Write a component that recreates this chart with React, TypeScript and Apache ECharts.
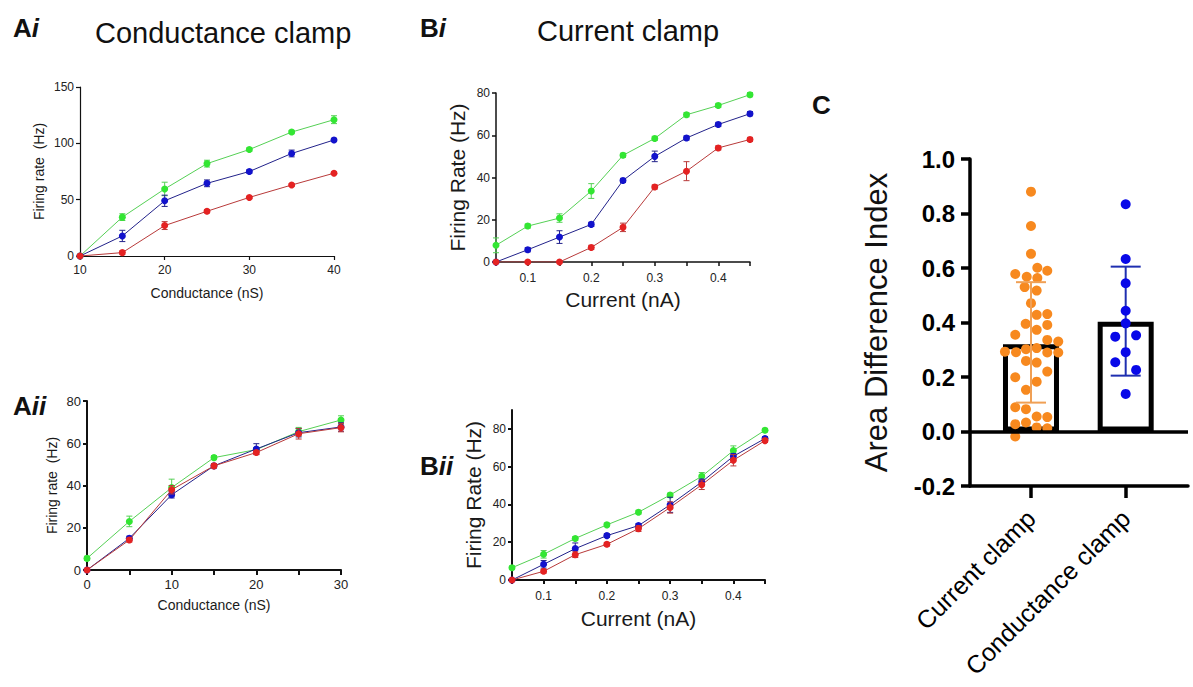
import React, { useEffect, useRef } from 'react';
import * as echarts from 'echarts';

const FONT = "'Liberation Sans', Arial, Helvetica, sans-serif";

// ---------- Panel Ai (conductance clamp) ----------
const aiX = [10, 15, 20, 25, 30, 35, 40];
const aiGreen = [0, 34.5, 59.5, 82, 94.5, 110, 121];
const aiGreenErr = [0, 3, 6, 3, 1.5, 1.5, 3.5];
const aiBlue = [0, 17.8, 49, 64.5, 75, 91, 103];
const aiBlueErr = [0, 5, 5, 3, 1.5, 3, 1.5];
const aiRed = [0, 3, 27, 39.7, 52, 63, 73.5];
const aiRedErr = [0, 1.5, 3.5, 1.5, 1, 1, 1];

// ---------- Panel Aii ----------
const aiiX = [0, 5, 10, 15, 20, 25, 30];
const aiiGreen = [5.5, 23, 39, 53.2, 57, 65.5, 71];
const aiiGreenErr = [1, 2.5, 4, 1, 1, 2, 2];
const aiiBlue = [0, 15, 35.6, 49.3, 57.3, 65, 67.7];
const aiiBlueErr = [0, 1, 1.5, 1, 2.5, 2, 2];
const aiiRed = [0, 14.2, 38, 49.3, 55.6, 64.5, 67.4];
const aiiRedErr = [0, 1, 2, 1, 1, 2.5, 2];

// ---------- Panel Bi (current clamp) ----------
const bX = [0.05, 0.1, 0.15, 0.2, 0.25, 0.3, 0.35, 0.4, 0.45];
const biGreen = [7.9, 17, 20.8, 33.6, 50.5, 58.5, 69.7, 74.1, 79.2];
const biGreenErr = [3.5, 1, 2, 3.5, 1, 1, 1, 1, 1];
const biBlue = [0, 5.8, 11.8, 17.8, 38.6, 50, 58.7, 65.1, 70.2];
const biBlueErr = [0, 1, 3, 1, 1, 2.5, 1, 1, 1];
const biRed = [0, 0, 0, 6.9, 16.4, 35.5, 43, 54, 58];
const biRedErr = [0, 0, 0, 1, 2, 1, 4.5, 1, 1];

// ---------- Panel Bii ----------
const biiGreen = [6.5, 13.6, 22, 29.2, 35.9, 45, 54.9, 68.5, 79.3];
const biiGreenErr = [1, 2, 1, 1, 1, 1, 2, 2.5, 1];
const biiBlue = [0, 8.3, 16.6, 23.5, 28.8, 39.8, 51.9, 65.5, 74.9];
const biiBlueErr = [0, 2, 3, 1, 1, 4, 1.5, 1.5, 1];
const biiRed = [0, 4.6, 13.4, 18.9, 27.2, 38.4, 50.4, 63.4, 73.8];
const biiRedErr = [0, 1, 1.5, 1, 1.5, 3, 2.5, 3, 1];

// ---------- Panel C ----------
const cCategories = ['Current clamp', 'Conductance clamp'];
const cMeans = [0.32, 0.403];
const cSdLow = [0.106, 0.205];
const cSdHigh = [0.548, 0.605];
const currentVals = [0.880, 0.754, 0.652, 0.601, 0.590, 0.578, 0.568, 0.563, 0.530, 0.517, 0.471, 0.428, 0.431, 0.395, 0.391, 0.373, 0.355, 0.336, 0.330, 0.293, 0.291, 0.302, 0.306, 0.290, 0.290, 0.259, 0.253, 0.220, 0.199, 0.183, 0.153, 0.089, 0.082, 0.055, 0.053, 0.027, 0.033, 0.015, 0.012, -0.018];
const currentJitter = [0, 0, 0, 0.067, 0.172, -0.166, -0.045, 0.067, -0.067, 0.06, 0, 0.06, 0.172, -0.056, 0.172, 0.06, -0.166, 0.172, 0.288, -0.275, -0.158, -0.053, 0.06, 0.172, 0.288, -0.053, 0.06, 0.172, -0.166, 0.06, -0.053, -0.166, -0.053, 0.06, 0.172, -0.166, -0.053, 0.06, 0.172, -0.166];
const conductanceVals = [0.834, 0.633, 0.544, 0.443, 0.397, 0.348, 0.353, 0.291, 0.254, 0.226, 0.138];
const conductanceJitter = [0, 0, 0, 0, 0, -0.11, 0.11, 0, -0.11, 0.11, 0];

const GREEN = '#33e633';
const GREEN_LINE = '#55d055';
const BLUE = '#1212cc';
const BLUE_LINE = '#22228a';
const RED = '#e42222';
const RED_LINE = '#b83a3a';
const ORANGE = '#f7891f';
const DOT_BLUE = '#0808e8';

function errRender(color: string, capW: number, lw: number) {
  return (params: any, api: any) => {
    const x = api.value(0);
    const lo = api.value(1);
    const hi = api.value(2);
    if (hi - lo <= 0) return null;
    const p1 = api.coord([x, hi]);
    const p2 = api.coord([x, lo]);
    const style = { stroke: color, lineWidth: lw, fill: 'none' };
    return {
      type: 'group',
      children: [
        { type: 'line', shape: { x1: p1[0], y1: p1[1], x2: p2[0], y2: p2[1] }, style },
        { type: 'line', shape: { x1: p1[0] - capW / 2, y1: p1[1], x2: p1[0] + capW / 2, y2: p1[1] }, style },
        { type: 'line', shape: { x1: p2[0] - capW / 2, y1: p2[1], x2: p2[0] + capW / 2, y2: p2[1] }, style },
      ],
    };
  };
}

function panelSeries(idx: number, xs: number[], sets: [number[], number[], string, string][]) {
  const out: any[] = [];
  sets.forEach(([vals, errs, mc, lc], k) => {
    out.push({
      type: 'custom',
      xAxisIndex: idx,
      yAxisIndex: idx,
      data: xs.map((x, i) => [x, vals[i] - errs[i], vals[i] + errs[i]]),
      renderItem: errRender(lc, 6, 1),
      z: 3 + k * 2,
      silent: true,
    });
    out.push({
      type: 'line',
      xAxisIndex: idx,
      yAxisIndex: idx,
      data: xs.map((x, i) => [x, vals[i]]),
      symbol: 'circle',
      symbolSize: 7,
      itemStyle: { color: mc, opacity: 1 },
      lineStyle: { color: lc, width: 1 },
      z: 4 + k * 2,
      silent: true,
    });
  });
  return out;
}

function valAxis(o: any) {
  const { idx, min, max, interval, name, nameGap, nameSize, labelSize, lineW, labelVals, tickVals, rotateName, tickLen, margin, fmt } = o;
  const ax: any = {
    type: 'value',
    gridIndex: idx,
    min,
    max,
    interval,
    name,
    nameLocation: 'middle',
    nameGap,
    nameTextStyle: { fontSize: nameSize, color: '#1a1a1a', fontFamily: FONT },
    axisLine: { show: true, onZero: false, lineStyle: { color: '#111', width: lineW } },
    axisTick: { show: true, length: tickLen ?? 4, lineStyle: { color: '#111', width: lineW } },
    axisLabel: { fontSize: labelSize, color: '#222', fontFamily: FONT, margin: margin ?? 6 },
    splitLine: { show: false },
  };
  if (rotateName) ax.nameRotate = 90;
  if (labelVals) ax.axisLabel.customValues = labelVals;
  if (tickVals) ax.axisTick.customValues = tickVals;
  if (fmt) ax.axisLabel.formatter = fmt;
  return ax;
}

export default function App() {
  const ref = useRef<HTMLDivElement>(null);
  useEffect(() => {
    if (!ref.current) return;
    const chart = echarts.init(ref.current, undefined, { renderer: 'svg' });

    const grids = [
      { left: 80, top: 87, width: 254, height: 169 },
      { left: 87, top: 401, width: 254, height: 169 },
      { left: 496, top: 93, width: 254, height: 169 },
      { left: 512, top: 410, width: 253, height: 170 },
      { left: 970, top: 159, width: 218, height: 327 },
    ];

    const xAxes = [
      valAxis({ idx: 0, min: 10, max: 40, interval: 10, name: 'Conductance (nS)', nameGap: 30, nameSize: 14, labelSize: 12, lineW: 1.2, margin: 8 }),
      valAxis({ idx: 1, min: 0, max: 30, interval: 5, name: 'Conductance (nS)', nameGap: 28, nameSize: 14, labelSize: 13, lineW: 2, labelVals: [0, 10, 20, 30], tickVals: [0, 5, 10, 15, 20, 25, 30], margin: 8, tickLen: 5 }),
      valAxis({ idx: 2, min: 0.05, max: 0.45, interval: 0.05, name: 'Current (nA)', nameGap: 27, nameSize: 21, labelSize: 12, lineW: 1.5, labelVals: [0.1, 0.2, 0.3, 0.4], tickVals: bX, margin: 10, fmt: (v: number) => v.toFixed(1) }),
      valAxis({ idx: 3, min: 0.05, max: 0.45, interval: 0.05, name: 'Current (nA)', nameGap: 28, nameSize: 21, labelSize: 12, lineW: 2, labelVals: [0.1, 0.2, 0.3, 0.4], tickVals: bX, margin: 10, fmt: (v: number) => v.toFixed(1) }),
      {
        type: 'value',
        gridIndex: 4,
        min: 0.356,
        max: 2.658,
        axisLine: { show: true, onZero: false, lineStyle: { color: '#000', width: 3.5 } },
        axisTick: { show: true, length: 12, customValues: [1, 2], lineStyle: { color: '#000', width: 3.5 } },
        axisLabel: {
          customValues: [1, 2],
          rotate: 45,
          fontSize: 25,
          color: '#000',
          fontFamily: FONT,
          margin: 28,
          formatter: (v: number) => cCategories[Math.round(v) - 1] ?? '',
        },
        splitLine: { show: false },
      },
    ];

    const yAxes = [
      valAxis({ idx: 0, min: 0, max: 150, interval: 50, name: 'Firing rate  (Hz)', nameGap: 34, nameSize: 14, labelSize: 12, lineW: 1.2, rotateName: true }),
      valAxis({ idx: 1, min: 0, max: 80, interval: 20, name: 'Firing rate  (Hz)', nameGap: 28, nameSize: 14, labelSize: 13, lineW: 2, rotateName: true }),
      valAxis({ idx: 2, min: 0, max: 80, interval: 20, name: 'Firing Rate (Hz)', nameGap: 28, nameSize: 21, labelSize: 12, lineW: 1.5, rotateName: true }),
      valAxis({ idx: 3, min: 0, max: 90, interval: 10, name: 'Firing Rate (Hz)', nameGap: 28, nameSize: 21, labelSize: 12, lineW: 2, rotateName: true, labelVals: [0, 20, 40, 60, 80], tickVals: [0, 20, 40, 60, 80] }),
      {
        type: 'value',
        gridIndex: 4,
        min: -0.2,
        max: 1.0,
        interval: 0.2,
        name: 'Area Difference Index',
        nameLocation: 'middle',
        nameGap: 78,
        nameRotate: 90,
        nameTextStyle: { fontSize: 31, color: '#111', fontFamily: FONT },
        axisLine: { show: true, onZero: false, lineStyle: { color: '#000', width: 3.5 } },
        axisTick: { show: true, length: 9, lineStyle: { color: '#000', width: 3.5 } },
        axisLabel: { fontSize: 24, fontWeight: 'bold', color: '#000', fontFamily: FONT, margin: 15, formatter: (v: number) => v.toFixed(1) },
        splitLine: { show: false },
      },
    ];

    const series: any[] = [
      ...panelSeries(0, aiX, [[aiGreen, aiGreenErr, GREEN, GREEN_LINE], [aiBlue, aiBlueErr, BLUE, BLUE_LINE], [aiRed, aiRedErr, RED, RED_LINE]]),
      ...panelSeries(1, aiiX, [[aiiGreen, aiiGreenErr, GREEN, GREEN_LINE], [aiiBlue, aiiBlueErr, BLUE, BLUE_LINE], [aiiRed, aiiRedErr, RED, RED_LINE]]),
      ...panelSeries(2, bX, [[biGreen, biGreenErr, GREEN, GREEN_LINE], [biBlue, biBlueErr, BLUE, BLUE_LINE], [biRed, biRedErr, RED, RED_LINE]]),
      ...panelSeries(3, bX, [[biiGreen, biiGreenErr, GREEN, GREEN_LINE], [biiBlue, biiBlueErr, BLUE, BLUE_LINE], [biiRed, biiRedErr, RED, RED_LINE]]),
      {
        type: 'bar',
        xAxisIndex: 4,
        yAxisIndex: 4,
        barWidth: 56,
        data: cMeans.map((m, i) => [i + 1, m]),
        itemStyle: { color: '#fff', borderColor: '#000', borderWidth: 5 },
        markLine: {
          silent: true,
          symbol: 'none',
          label: { show: false },
          lineStyle: { color: '#000', width: 3.5, type: 'solid' },
          data: [{ yAxis: 0 }],
        },
        z: 2,
        silent: true,
      },
      {
        type: 'scatter',
        xAxisIndex: 4,
        yAxisIndex: 4,
        data: currentVals.map((v, i) => [1 + currentJitter[i], v]),
        symbolSize: 10,
        itemStyle: { color: ORANGE, opacity: 1 },
        z: 4,
        silent: true,
      },
      {
        type: 'scatter',
        xAxisIndex: 4,
        yAxisIndex: 4,
        data: conductanceVals.map((v, i) => [2 + conductanceJitter[i], v]),
        symbolSize: 10,
        itemStyle: { color: DOT_BLUE, opacity: 1 },
        z: 4,
        silent: true,
      },
      {
        type: 'custom',
        xAxisIndex: 4,
        yAxisIndex: 4,
        data: [[1, cSdLow[0], cSdHigh[0]]],
        renderItem: errRender('#f0a055', 30, 2),
        z: 5,
        silent: true,
      },
      {
        type: 'custom',
        xAxisIndex: 4,
        yAxisIndex: 4,
        data: [[2, cSdLow[1], cSdHigh[1]]],
        renderItem: errRender('#1f2fb0', 30, 2),
        z: 3,
        silent: true,
      },
    ];

    const panelLabel = (txt: string, sub: string, left: number, top: number) => ({
      type: 'text',
      left,
      top,
      style: {
        text: `{a|${txt}}{b|${sub}}`,
        rich: {
          a: { fontSize: 26, fontWeight: 'bold', fontFamily: FONT, fill: '#111' },
          b: { fontSize: 26, fontWeight: 'bold', fontStyle: 'italic', fontFamily: FONT, fill: '#111' },
        },
      },
    });

    const option: any = {
      animation: false,
      backgroundColor: '#fff',
      grid: grids,
      xAxis: xAxes,
      yAxis: yAxes,
      series,
      graphic: [
        panelLabel('A', 'i', 13, 15),
        panelLabel('A', 'ii', 13, 393),
        panelLabel('B', 'i', 420, 15),
        panelLabel('B', 'ii', 420, 453),
        { type: 'text', left: 812, top: 92, style: { text: 'C', fontSize: 26, fontWeight: 'bold', fontFamily: FONT, fill: '#111' } },
        { type: 'text', left: 95, top: 18, style: { text: 'Conductance clamp', fontSize: 29, fontFamily: FONT, fill: '#111' } },
        { type: 'text', left: 537, top: 16, style: { text: 'Current clamp', fontSize: 29, fontFamily: FONT, fill: '#111' } },
      ],
    };
    chart.setOption(option);
    return () => chart.dispose();
  }, []);

  return (
    <div
      ref={ref}
      style={{ position: 'fixed', left: 0, top: 0, width: 1193, height: 687, background: '#fff' }}
    />
  );
}
